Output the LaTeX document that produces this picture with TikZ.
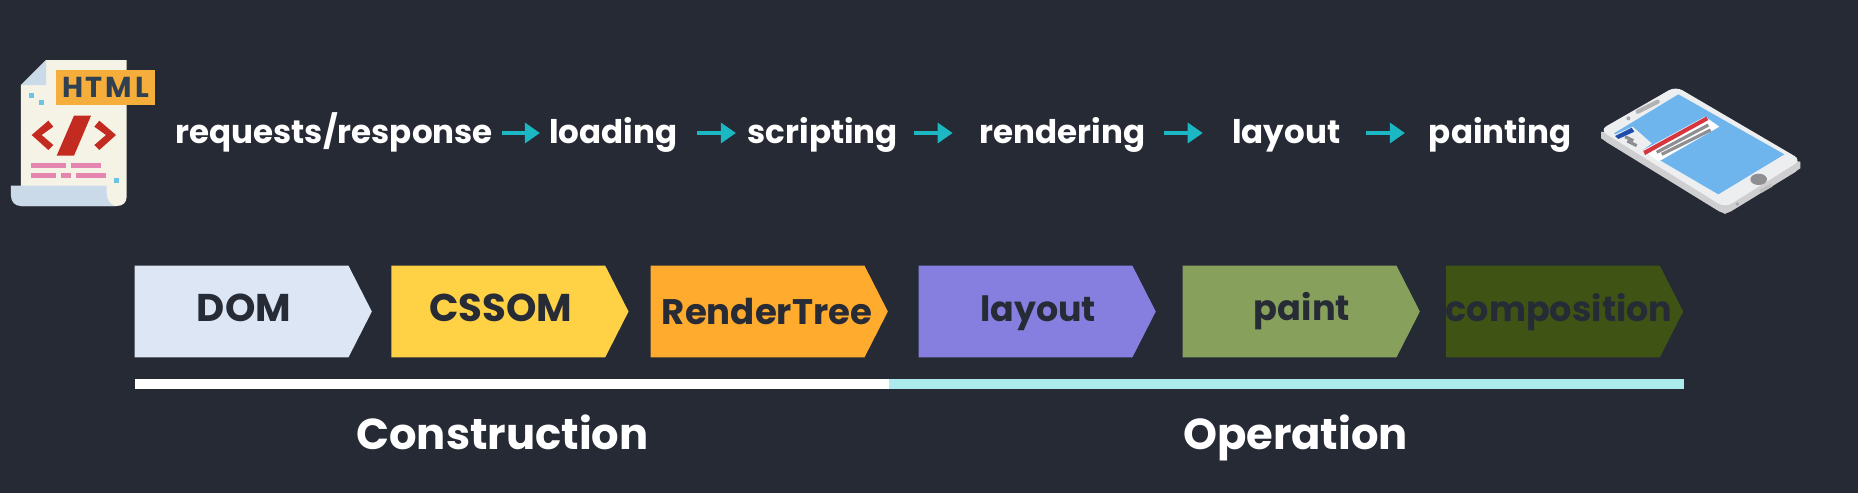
\documentclass[tikz,border=0pt]{standalone}
\usepackage{fontspec}
\setmainfont{Poppins}
\usetikzlibrary{arrows.meta,shapes.symbols}

\definecolor{bgdark}{HTML}{252A34}
\definecolor{inkdark}{HTML}{262B36}
\definecolor{arrowteal}{HTML}{1BB8C4}
\definecolor{paper}{HTML}{F5F3E6}
\definecolor{scrollblue}{HTML}{CADAE8}
\definecolor{tagorange}{HTML}{F5AE3C}
\definecolor{tagink}{HTML}{2F4052}
\definecolor{codered}{HTML}{C42B20}
\definecolor{linepink}{HTML}{E586B0}
\definecolor{speck}{HTML}{6CC3E3}
\definecolor{domblue}{HTML}{DCE6F5}
\definecolor{cssomyellow}{HTML}{FFD145}
\definecolor{renderorange}{HTML}{FFAB2D}
\definecolor{layoutviolet}{HTML}{867FE0}
\definecolor{paintgreen}{HTML}{87A05C}
\definecolor{compogreen}{HTML}{3F5414}
\definecolor{barcyan}{HTML}{ABEBEC}
\definecolor{phonetop}{HTML}{EDEEF0}
\definecolor{phoneside}{HTML}{CFCFD2}
\definecolor{phonescreen}{HTML}{6DB5EC}
\definecolor{phonegray}{HTML}{8F8F93}
\definecolor{phonered}{HTML}{D8363F}
\definecolor{phoneblue}{HTML}{1F4DAB}

\tikzset{
  steptext/.style={inner sep=0pt,outer sep=0pt,text=white,font=\fontsize{9.25}{11}\selectfont\bfseries,text height=0.32cm,text depth=0.12cm},
  flowarrow/.style={arrowteal,line width=0.033cm,-{Triangle[length=0.15cm,width=0.2cm]}},
  stage/.style={signal,signal to=east,signal pointer angle=126,anchor=west,draw=none,inner sep=0pt,outer sep=0pt,minimum width=2.37cm,minimum height=0.915cm},
  stagetext/.style={inner sep=0pt,text=inkdark,font=\fontsize{#1}{13}\selectfont\bfseries,text height=0.3cm,text depth=0.11cm},
  grouptext/.style={inner sep=0pt,text=white,font=\fontsize{12.3}{15}\selectfont\bfseries,text height=0.36cm,text depth=0.12cm},
}

\begin{document}
\begin{tikzpicture}[x=0.01cm,y=-0.01cm]
    \fill[bgdark] (0,0) rectangle (1858,493);
    \useasboundingbox (0,0) rectangle (1858,493);

    % Document
    \begin{scope}[shift={(0,30)},scale=1/3]
        \fill[paper] (138,90) -- (380,90) -- (380,500) .. controls (380,518) and (368,528) .. (350,528) -- (63,528) -- (63,165) -- cycle;
        \fill[scrollblue] (138,90) -- (63,165) -- (138,165) -- cycle;
        \fill[scrollblue] (33,467) -- (320,467) -- (320,490) .. controls (320,510) and (330,522) .. (345,528) -- (62,528) .. controls (45,528) and (33,515) .. (33,498) -- cycle;
        \fill[codered] (95,315) -- (145,272) -- (160,290) -- (125,315) -- (160,345) -- (145,360) -- cycle;
        \fill[codered] (222,257) -- (273,257) -- (222,377) -- (170,377) -- cycle;
        \fill[codered] (348,315) -- (298,272) -- (283,290) -- (318,315) -- (283,345) -- (298,360) -- cycle;
        \fill[linepink] (93,400) rectangle (198,414);
        \fill[linepink] (214,400) rectangle (304,414);
        \fill[linepink] (93,430) rectangle (168,444);
        \fill[linepink] (184,430) rectangle (214,444);
        \fill[linepink] (229,430) rectangle (319,444);
        \fill[speck] (86,188) rectangle (101,203);
        \fill[speck] (116,211) rectangle (131,226);
        \fill[speck] (342,445) rectangle (357,460);
        \node[fill=tagorange,text=tagink,inner sep=0pt,minimum width=0.99cm,minimum height=0.35cm,font=\fontsize{8.2}{10}\selectfont\bfseries] (htmltag) at (316.5,172.5) {H\kern0.8pt T\kern0.8pt M\kern0.8pt L};
    \end{scope}

    % Etapes du haut
    \node[steptext,minimum width=3.176cm] (request) at (334.2,133) {requests/response};
    \node[steptext,minimum width=1.315cm] (loading) at (613.2,133) {loading};
    \node[steptext,minimum width=1.503cm] (scripting) at (822.8,133) {scripting};
    \node[steptext,minimum width=1.67cm] (rendering) at (1062.5,133) {rendering};
    \node[steptext,minimum width=1.076cm] (layouttop) at (1286.2,133) {layout};
    \node[steptext,minimum width=1.445cm] (painting) at (1500.2,133) {painting};

    \draw[flowarrow,shorten <=0.087cm,shorten >=0.075cm] (request) -- (loading);
    \draw[flowarrow,shorten <=0.18cm,shorten >=0.117cm] (loading) -- (scripting);
    \draw[flowarrow,shorten <=0.156cm,shorten >=0.263cm] (scripting) -- (rendering);
    \draw[flowarrow,shorten <=0.177cm,shorten >=0.294cm] (rendering) -- (layouttop);
    \draw[flowarrow,shorten <=0.26cm,shorten >=0.23cm] (layouttop) -- (painting);

    % Telephone
    \begin{scope}[shift={(1590,75)},scale=1/3]
        \fill[phoneside,rounded corners=2pt] (255,60) -- (634,280) -- (405,420) -- (31,190) -- cycle;
        \fill[phoneside] (33,170) -- (33,190) -- (405,417) -- (631,280) -- (631,260) -- cycle;
        \fill[phonetop,rounded corners=2.2pt] (257,34) -- (634,255) -- (405,398) -- (29,165) -- cycle;
        \fill[phonescreen] (265,58) -- (583,238) -- (385,358) -- (72,175) -- cycle;
        \fill[phonetop] (72,180) -- (128,155) -- (185,205) -- (155,228) -- cycle;
        \fill[phoneblue] (75,183) -- (125,158) -- (133,170) -- (85,192) -- cycle;
        \fill[white] (160,225) -- (345,125) -- (388,155) -- (205,260) -- cycle;
        \fill[phonered] (160,228) -- (348,125) -- (355,135) -- (165,240) -- cycle;
        \draw[phonegray,line width=0.9pt] (200,232) -- (355,150);
        \draw[phonegray,line width=0.9pt] (215,238) -- (362,165);
        \draw[phonegray,line width=0.9pt] (105,185) -- (130,197);
        \draw[phonegray,line width=0.9pt] (112,198) -- (140,212);
        \fill[phonegray] (506,313) ellipse[x radius=25,y radius=17];
        \draw[black!30!white,line width=1.2pt,line cap=round] (143,110) -- (203,80);
        \fill[black!35!white] (115,130) circle[radius=6];
        \draw[black!25!white,line width=1pt] (510,350) -- (545,330);
        \fill[black!35!white] (442,387) circle[radius=5];
    \end{scope}

    % Blocs du bas
    \node[stage,fill=domblue] (dom) at (134.7,311.5) {};
    \node[stagetext=11] (domtext) at (244,311.5) {DOM};
    \node[stage,fill=cssomyellow] (cssom) at (391.4,311.5) {};
    \node[stagetext=11] (cssomtext) at (501,311.5) {CSSOM};
    \node[stage,fill=renderorange] (rendertree) at (650.7,311.5) {};
    \node[stagetext=10.1] (rendertreetext) at (767,315) {RenderTree};
    \node[stage,fill=layoutviolet] (layout) at (918.6,311.5) {};
    \node[stagetext=9.9] (layouttext) at (1038,311.5) {layout};
    \node[stage,fill=paintgreen] (paint) at (1182.7,311.5) {};
    \node[stagetext=10] (painttext) at (1302,310.5) {paint};
    \node[stage,fill=compogreen] (composition) at (1446,311.5) {};
    \node[stagetext=9.95] (compositiontext) at (1559,311.5) {composition};

    % Barres
    \fill[white] (134.7,379.3) rectangle (888.8,389);
    \fill[barcyan] (888.8,379.3) rectangle (1684,389);

    \node[grouptext] (construction) at (502.5,437) {Construction};
    \node[grouptext] (operation) at (1295.5,437) {Operation};
\end{tikzpicture}
\end{document}
